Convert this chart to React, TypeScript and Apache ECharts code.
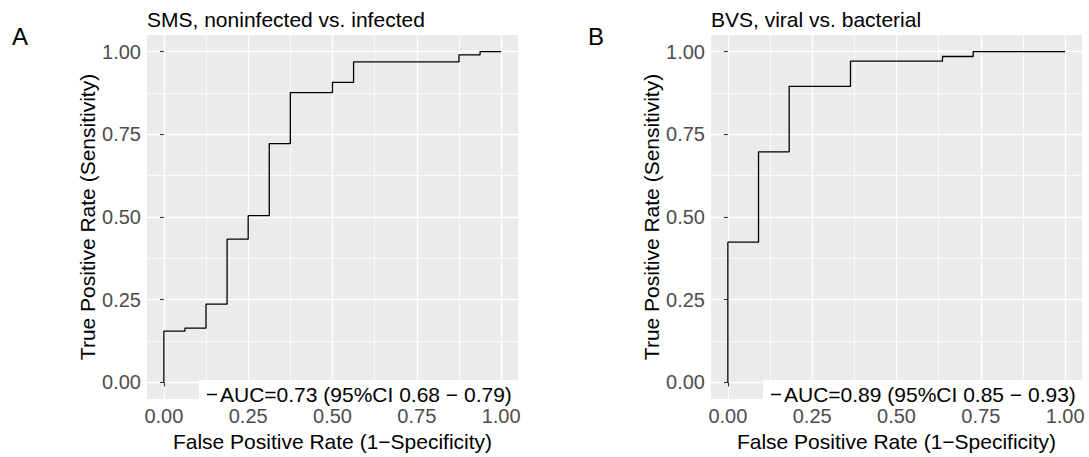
import React, { useEffect, useRef } from "react";
import * as echarts from "echarts";

// Panel A: SMS, noninfected vs. infected
const fprA = [0, 0, 0.0625, 0.125, 0.1875, 0.25, 0.3125, 0.375, 0.5, 0.5625, 0.875, 0.9375, 1];
const tprA = [0, 0.155, 0.164, 0.237, 0.433, 0.504, 0.722, 0.876, 0.907, 0.969, 0.99, 1, 1];
// Panel B: BVS, viral vs. bacterial
const fprB = [0, 0, 0.0909, 0.1818, 0.3636, 0.6364, 0.7273, 1];
const tprB = [0, 0.424, 0.697, 0.895, 0.971, 0.985, 1, 1];

const titles = ["SMS, noninfected vs. infected", "BVS, viral vs. bacterial"];
const panelTags = ["A", "B"];
const legendLabels = ["AUC=0.73 (95%CI 0.68 \u2212 0.79)", "AUC=0.89 (95%CI 0.85 \u2212 0.93)"];
const majorTicks = [0, 0.25, 0.5, 0.75, 1];
const minorTicks = [0.125, 0.375, 0.625, 0.875];
const xTitle = "False Positive Rate (1\u2212Specificity)";
const yTitle = "True Positive Rate (Sensitivity)";

const FONT = "'Liberation Sans', Arial, Helvetica, sans-serif";

export default function App() {
  const ref = useRef<HTMLDivElement>(null);
  useEffect(() => {
    if (!ref.current) return;
    const chart = echarts.init(ref.current, null, { renderer: "svg" });
    const grids = [
      { left: 147, top: 35, width: 371, height: 372 },
      { left: 711, top: 35, width: 371, height: 372 },
    ];
    const xAxes: any[] = [];
    const yAxes: any[] = [];
    grids.forEach((_, i) => {
      xAxes.push({
        type: "value",
        gridIndex: i,
        min: -0.05,
        max: 1.05,
        name: xTitle,
        nameLocation: "middle",
        nameGap: 32,
        nameTextStyle: { fontSize: 21, color: "#000", fontFamily: FONT },
        axisLine: { show: false },
        axisTick: { show: true, length: 4, customValues: majorTicks, lineStyle: { color: "#333", width: 1.1 } },
        axisLabel: {
          customValues: majorTicks,
          margin: 7,
          fontSize: 20,
          color: "#4D4D4D",
          fontFamily: FONT,
          formatter: (v: number) => v.toFixed(2),
        },
        splitLine: { show: true, lineStyle: { color: "#ffffff", width: 1.3 } },
      });
      xAxes.push({
        type: "value",
        gridIndex: i,
        position: "bottom",
        min: -0.05,
        max: 1.05,
        axisLine: { show: false },
        axisTick: { show: false, customValues: minorTicks },
        axisLabel: { show: false, customValues: minorTicks },
        splitLine: { show: true, lineStyle: { color: "#ffffff", width: 0.8 } },
      });
      yAxes.push({
        type: "value",
        gridIndex: i,
        min: -0.05,
        max: 1.05,
        name: yTitle,
        nameLocation: "middle",
        nameRotate: 90,
        nameGap: 48,
        nameTextStyle: { fontSize: 21, color: "#000", fontFamily: FONT },
        axisLine: { show: false },
        axisTick: { show: true, length: 4, customValues: majorTicks, lineStyle: { color: "#333", width: 1.1 } },
        axisLabel: {
          customValues: majorTicks,
          margin: 6,
          fontSize: 20,
          color: "#4D4D4D",
          fontFamily: FONT,
          formatter: (v: number) => v.toFixed(2),
        },
        splitLine: { show: true, lineStyle: { color: "#ffffff", width: 1.3 } },
      });
      yAxes.push({
        type: "value",
        gridIndex: i,
        position: "left",
        min: -0.05,
        max: 1.05,
        axisLine: { show: false },
        axisTick: { show: false, customValues: minorTicks },
        axisLabel: { show: false, customValues: minorTicks },
        splitLine: { show: true, lineStyle: { color: "#ffffff", width: 0.8 } },
      });
    });

    const dataSets = [
      fprA.map((x, k) => [x, tprA[k]]),
      fprB.map((x, k) => [x, tprB[k]]),
    ];

    chart.setOption({
      animation: false,
      textStyle: { fontFamily: FONT },
      grid: grids.map((g) => ({
        ...g,
        show: true,
        backgroundColor: "#EBEBEB",
        borderWidth: 0,
        containLabel: false,
      })),
      title: [
        ...titles.map((t, i) => ({
          text: t,
          left: grids[i].left,
          top: 9,
          padding: 0,
          textStyle: { fontSize: 21, fontWeight: "normal", color: "#000", fontFamily: FONT },
        })),
        { text: panelTags[0], left: 12, top: 24, padding: 0, textStyle: { fontSize: 24, fontWeight: "normal", color: "#000", fontFamily: FONT } },
        { text: panelTags[1], left: 588, top: 24, padding: 0, textStyle: { fontSize: 24, fontWeight: "normal", color: "#000", fontFamily: FONT } },
      ],
      legend: [0, 1].map((i) => ({
        data: [legendLabels[i]],
        left: grids[i].left + 52,
        top: 380,
        orient: "horizontal",
        backgroundColor: "#ffffff",
        padding: [4, 6, 4, 8],
        icon: "rect",
        itemWidth: 10,
        itemHeight: 1.5,
        selectedMode: false,
        textStyle: { fontSize: 21, color: "#000", fontFamily: FONT, padding: [0, 0, 0, -2] },
      })),
      xAxis: xAxes,
      yAxis: yAxes,
      series: [0, 1].map((i) => ({
        name: legendLabels[i],
        type: "line",
        xAxisIndex: i * 2,
        yAxisIndex: i * 2,
        step: "end",
        symbol: "none",
        showSymbol: false,
        data: dataSets[i],
        lineStyle: { color: "#000", width: 1.3 },
        itemStyle: { color: "#000" },
      })),
    });
    return () => chart.dispose();
  }, []);
  return (
    <div
      ref={ref}
      style={{ position: "fixed", left: 0, top: 0, width: 1089, height: 457, background: "#fff" }}
    />
  );
}
